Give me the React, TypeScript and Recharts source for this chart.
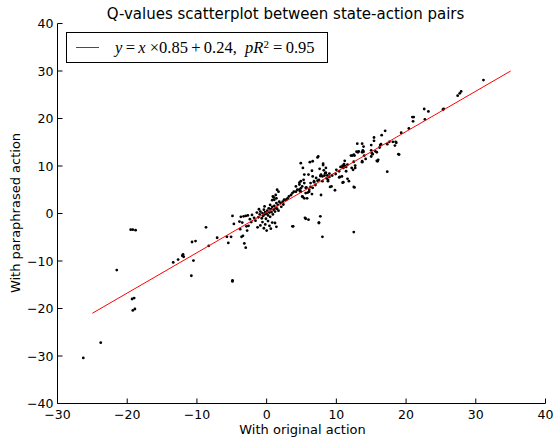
import React from 'react';
import { ScatterChart, Scatter, XAxis, YAxis, Legend } from 'recharts';

const xTicks = [-30, -20, -10, 0, 10, 20, 30, 40];
const yTicks = [-40, -30, -20, -10, 0, 10, 20, 30, 40];

// fitted line y = x*0.85 + 0.24, end points as drawn
const fitLine = [
  { x: -25, y: -21.0 },
  { x: 35, y: 30.0 },
];

type P = [number, number];

const leftTail: P[] = [
  [-26.3, -30.4], [-23.8, -27.2], [-21.5, -11.9], [-19.5, -3.4], [-19.2, -3.4], [-18.8, -3.5],
  [-19.3, -18.0], [-19.0, -17.8], [-19.2, -20.4], [-18.9, -20.1], [-13.4, -10.3], [-12.7, -9.7],
  [-12.0, -8.6], [-11.9, -9.1], [-12.1, -8.9], [-10.7, -6.0], [-10.2, -5.8], [-10.5, -9.9],
  [-10.8, -13.1], [-8.7, -2.9], [-8.3, -6.8],
];

const negativeBand: P[] = [
  [-7.1, -5.1], [-5.7, -4.9], [-5.1, -4.9], [-5.5, -6.2], [-4.9, -14.1], [-4.9, -14.3], [-4.9, -0.5],
  [-4.7, -2.2], [-3.9, -1.7], [-3.5, -1.9], [-3.7, -0.7], [-3.3, -0.6], [-3.0, -0.5], [-2.7, -0.4],
  [-2.1, -0.3], [-3.8, -3.3], [-2.9, -2.7], [-2.6, -2.6], [-2.8, -3.6], [-3.6, -4.9], [-3.2, -6.3],
  [-3.0, -7.2], [-3.4, -4.7], [-2.4, -1.2], [-1.8, -0.9], [-2.2, -1.8], [-1.6, -1.5],
];

const coreCluster: P[] = [
  [-1.2, -0.8], [-1.0, -0.2], [-0.9, 0.4], [-0.7, -1.0], [-0.6, 0.1], [-0.5, -0.5], [-0.4, 0.8],
  [-0.3, -0.2], [-0.2, 0.3], [-0.1, -1.1], [0.0, 0.0], [0.1, 0.6], [0.2, -0.4], [0.3, 1.1],
  [0.4, 0.2], [0.5, -0.7], [0.6, 0.9], [0.7, 0.3], [0.8, 1.4], [0.9, -0.2], [1.0, 0.8], [1.1, 1.6],
  [1.2, 0.4], [1.3, 1.1], [1.4, 2.2], [1.5, 1.0], [1.6, 1.8], [1.7, 0.6], [1.8, 2.5], [2.0, 2.2],
  [2.1, 1.4], [2.3, 2.5], [2.4, 1.9], [-0.6, -1.8], [-0.2, -2.3], [0.4, -2.6], [0.8, -1.9],
  [1.2, -2.0], [1.4, -2.8], [-0.9, -2.5], [0.2, -1.6], [-1.1, 0.9], [-0.3, 1.5], [0.5, 1.8],
  [0.8, 2.8], [1.0, 3.4], [1.3, 3.9], [1.5, 5.0], [1.7, 4.6], [1.1, 2.9], [0.9, 3.6], [1.4, 3.2],
  [-0.4, -3.1], [0.0, -3.6], [-1.3, -2.9], [-1.4, 0.2], [0.6, -3.2],
];

const positiveBand: P[] = [
  [2.5, 2.9], [2.8, 2.9], [3.0, 3.2], [3.2, 3.6], [3.5, 3.9], [3.7, 4.3], [3.9, 4.6], [4.2, 4.6],
  [4.2, 5.7], [4.4, 5.0], [4.7, 5.0], [4.9, 5.3], [4.7, 6.1], [4.9, 4.6], [4.7, 6.5], [4.8, 4.7],
  [4.9, 6.8], [5.1, 5.7], [5.1, 3.6], [5.2, 3.5], [5.3, 7.1], [5.4, 6.4], [5.4, 8.2], [5.4, 3.2],
  [5.6, 5.4], [5.6, 4.3], [5.7, 5.5], [5.8, 3.2], [5.9, 4.4], [6.0, 8.2], [6.1, 4.6], [6.1, 5.0],
  [6.3, 5.6], [6.3, 6.4], [6.5, 4.1], [6.6, 5.4], [6.6, 7.8], [6.8, 6.8], [6.8, 6.6], [7.0, 6.0],
  [7.1, 7.5], [7.3, 6.9], [7.5, 7.1], [7.8, 3.9], [4.9, 10.6], [5.2, 9.6], [6.2, 10.8], [6.6, 11.0],
  [6.5, 9.0], [7.4, 12.0], [7.3, 11.8], [7.6, 9.4], [7.7, 7.9], [7.8, 8.2], [8.0, 7.8], [8.0, 6.8],
  [8.1, 10.2], [8.1, 10.5], [8.2, 9.1], [8.3, 8.0], [8.4, 8.5], [8.5, 8.6], [8.5, 9.6], [8.6, 7.4],
  [8.7, 8.0], [8.8, 7.1], [8.8, 6.8], [9.0, 7.7], [9.0, 8.4], [9.1, 5.6], [9.3, 5.7], [9.4, 8.0],
  [9.8, 4.9], [9.9, 8.3], [3.7, -2.7], [5.5, -0.9], [6.0, -1.3], [5.6, -1.1], [7.7, -0.6],
  [7.5, -1.9], [7.5, -2.0], [8.0, -4.9], [3.8, -2.7],
];

const upperBand: P[] = [
  [10.0, 9.2], [10.4, 8.9], [10.4, 7.6], [10.5, 7.7], [10.6, 9.8], [10.8, 7.8], [10.9, 9.7],
  [10.9, 10.1], [10.9, 6.5], [11.0, 9.6], [11.0, 6.6], [11.1, 10.4], [11.2, 11.1], [11.2, 10.0],
  [11.4, 9.8], [11.4, 8.9], [11.6, 10.3], [11.6, 7.3], [11.8, 6.8], [12.2, 9.6], [12.1, 12.2],
  [12.3, 12.2], [12.5, 12.4], [12.5, 10.9], [12.6, 12.2], [12.7, 10.1], [12.7, 9.6], [12.4, 9.2],
  [12.5, 5.6], [12.6, 5.5], [12.5, -3.9], [12.9, 13.0], [13.0, 14.7], [13.1, 12.9], [13.2, 13.1],
  [13.7, 14.7], [13.7, 12.9], [13.7, 11.0], [13.7, 10.8], [13.8, 13.3], [13.9, 14.1], [13.9, 13.0],
  [14.0, 12.2], [14.2, 11.5], [15.0, 14.4], [15.0, 13.3], [15.0, 12.0], [15.1, 12.7], [15.2, 12.5],
  [15.4, 16.0], [15.4, 15.3], [15.6, 13.1], [15.8, 12.9], [15.8, 11.1], [15.9, 11.0], [16.0, 11.3],
  [16.2, 13.9], [16.3, 14.4], [16.4, 14.6], [16.5, 16.5], [17.0, 17.4], [17.3, 14.6], [17.3, 8.8],
  [17.6, 15.1], [18.1, 15.1], [18.4, 14.3], [18.5, 15.1], [18.6, 14.9], [18.9, 12.5], [19.0, 12.4],
  [19.3, 17.0], [20.4, 17.9], [20.9, 20.3], [21.0, 19.4], [21.1, 20.3], [22.6, 22.0], [22.7, 19.8],
  [23.2, 21.5], [25.3, 21.9], [25.4, 22.0], [27.4, 24.8], [27.7, 25.3], [27.9, 25.7], [31.1, 28.1],
];

const points = [...leftTail, ...negativeBand, ...coreCluster, ...positiveBand, ...upperBand].map(
  ([x, y]) => ({ x, y })
);

const FONT = '"DejaVu Sans", sans-serif';
const fmt = (v: number) => (v < 0 ? '\u2212' + Math.abs(v) : String(v));
const th = '\u2009';

// matplotlib-style inward ticks
const BottomTick = ({ x, y, payload }: any) => (
  <g>
    <line x1={x} x2={x} y1={y} y2={y - 5} stroke="#000" />
    <text x={x} y={y + 15} textAnchor="middle" fontSize={12.5} fontFamily={FONT} fill="#000">
      {fmt(payload.value)}
    </text>
  </g>
);

const LeftTick = ({ x, y, payload }: any) => (
  <g>
    <line x1={x} x2={x + 5} y1={y} y2={y} stroke="#000" />
    <text x={x - 4} y={y} dy="0.36em" textAnchor="end" fontSize={12.5} fontFamily={FONT} fill="#000">
      {fmt(payload.value)}
    </text>
  </g>
);

const TopTick = ({ x, y }: any) => <line x1={x} x2={x} y1={y} y2={y + 5} stroke="#000" />;
const RightTick = ({ x, y }: any) => <line x1={x} x2={x - 5} y1={y} y2={y} stroke="#000" />;

const Dot = (props: any) => <circle cx={props.cx} cy={props.cy} r={1.4} fill="#000" />;
const NoDot = () => <g />;

const LegendBox = () => (
  <div
    style={{
      border: '1px solid #000',
      background: '#fff',
      width: 260,
      height: 29,
      position: 'relative',
      fontFamily: '"Liberation Serif", serif',
      fontSize: 16.5,
      lineHeight: '18px',
    }}
  >
    <div style={{ position: 'absolute', left: 9, top: 14, width: 23, borderTop: '1px solid #ff0000' }} />
    <div style={{ position: 'absolute', left: 48, top: 6, whiteSpace: 'nowrap', color: '#000' }}>
      <i>y</i>{th}={th}<i>x</i> ×0.85{th}+{th}0.24,&nbsp;&nbsp;<i>pR</i>
      <sup style={{ fontSize: 11, verticalAlign: 'top', position: 'relative', top: -4 }}>2</sup>
      {' '}={th}0.95
    </div>
  </div>
);

export default function App() {
  return (
    <div style={{ position: 'absolute', left: 0, top: 0, width: 553, height: 441, background: '#fff' }}>
      <ScatterChart width={553} height={441} margin={{ top: 23.5, right: 7.5, bottom: 0, left: 0 }}>
        <XAxis
          dataKey="x"
          type="number"
          domain={[-30, 40]}
          ticks={xTicks}
          allowDataOverflow
          height={37.5}
          tickSize={0}
          tickMargin={0}
          tickLine={false}
          tick={<BottomTick />}
          axisLine={{ stroke: '#000' }}
          interval={0}
        />
        <XAxis
          xAxisId="top"
          orientation="top"
          type="number"
          domain={[-30, 40]}
          ticks={xTicks}
          allowDataOverflow
          height={0}
          tickSize={0}
          tickMargin={0}
          tickLine={false}
          tick={<TopTick />}
          axisLine={{ stroke: '#000' }}
          interval={0}
        />
        <YAxis
          dataKey="y"
          type="number"
          domain={[-40, 40]}
          ticks={yTicks}
          allowDataOverflow
          width={57.5}
          tickSize={0}
          tickMargin={0}
          tickLine={false}
          tick={<LeftTick />}
          axisLine={{ stroke: '#000' }}
          interval={0}
        />
        <YAxis
          yAxisId="right"
          orientation="right"
          type="number"
          domain={[-40, 40]}
          ticks={yTicks}
          allowDataOverflow
          width={0}
          tickSize={0}
          tickMargin={0}
          tickLine={false}
          tick={<RightTick />}
          axisLine={{ stroke: '#000' }}
          interval={0}
        />
        <Scatter data={points} shape={<Dot />} isAnimationActive={false} />
        <Scatter
          data={fitLine}
          line={{ stroke: '#ff0000', strokeWidth: 1 }}
          shape={<NoDot />}
          isAnimationActive={false}
        />
        <Legend
          layout="vertical"
          align="center"
          verticalAlign="middle"
          wrapperStyle={{ left: 66, top: 32 }}
          content={() => <LegendBox />}
        />
        <text x={285.5} y={18.5} textAnchor="middle" fontSize={15} fontFamily={FONT} fill="#000">
          Q-values scatterplot between state-action pairs
        </text>
        <text x={302.5} y={434} textAnchor="middle" fontSize={13} fontFamily={FONT} fill="#000">
          With original action
        </text>
        <text
          x={20}
          y={213}
          transform="rotate(-90 20 213)"
          textAnchor="middle"
          fontSize={13}
          fontFamily={FONT}
          fill="#000"
        >
          With paraphrased action
        </text>
      </ScatterChart>
    </div>
  );
}
